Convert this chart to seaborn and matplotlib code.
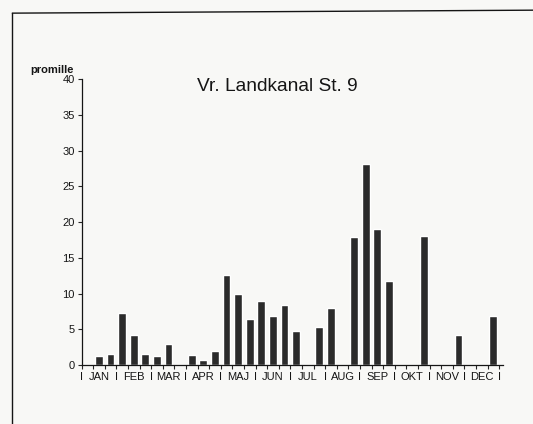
import numpy as np
import matplotlib.pyplot as plt
import seaborn as sns
import pandas as pd

# three sampling slots per month, 0 = no sample
slots = list(range(36))
values = [0, 1.2, 1.6, 7.3, 4.2, 1.6, 1.3, 2.9, 0, 1.4, 0.7, 2.0,
          12.6, 9.9, 6.4, 9.0, 6.9, 8.4, 4.7, 0, 5.3, 8.0, 0, 17.9,
          28.1, 19.1, 11.7, 0, 0, 18.1, 0, 0, 4.2, 0, 0, 6.8]
months = ['JAN', 'FEB', 'MAR', 'APR', 'MAJ', 'JUN',
          'JUL', 'AUG', 'SEP', 'OKT', 'NOV', 'DEC']
yticks = [0, 5, 10, 15, 20, 25, 30, 35, 40]

df = pd.DataFrame({'slot': slots, 'promille': values})

sns.set_style('white')
plt.rcParams['font.family'] = ['Liberation Sans', 'DejaVu Sans']

bg = '#f8f8f6'
ink = '#151515'
fig = plt.figure(figsize=(5.33, 4.24), dpi=100, facecolor=bg)
ax = fig.add_axes([0.153, 0.139, 0.79, 0.674])
ax.set_facecolor(bg)

sns.barplot(data=df, x='slot', y='promille', color='#2b2b2b', width=0.68,
            saturation=1, ax=ax)

ax.set_xlim(-0.5, 35.8)
ax.set_ylim(0, 40)
ax.set_yticks(yticks)
ax.set_yticklabels([str(t) for t in yticks], fontsize=8, color=ink)
ax.tick_params(axis='y', length=3, width=0.8, pad=2, direction='out', left=True)

# small marks at every slot boundary, "I" at month boundaries
bounds = np.arange(-0.5, 36, 1)
ax.set_xticks(bounds)
ax.set_xticklabels(['I' if i % 3 == 0 else '' for i in range(len(bounds))],
                   fontsize=8, color=ink)
ax.tick_params(axis='x', which='major', length=3, width=0.8, pad=2,
               direction='out', bottom=True)
ax.set_xticks(np.arange(1, 36, 3), minor=True)
ax.set_xticklabels(months, minor=True, fontsize=8, color=ink)
ax.tick_params(axis='x', which='minor', length=0, pad=5)

ax.set_xlabel('')
ax.set_ylabel('')
for s in ['top', 'right']:
    ax.spines[s].set_visible(False)
for s in ['left', 'bottom']:
    ax.spines[s].set_color(ink)
    ax.spines[s].set_linewidth(0.9)

ax.text(0.465, 0.975, 'Vr. Landkanal St. 9', transform=ax.transAxes,
        ha='center', va='center', fontsize=13.8, color=ink)
fig.text(0.056, 0.835, 'promille', fontsize=8, color=ink,
         fontweight='bold', va='center')

# frame lines from the scanned page
fig.add_artist(plt.Line2D([0.023, 0.023], [0.0, 0.969], color=ink,
                          lw=1.0, transform=fig.transFigure))
fig.add_artist(plt.Line2D([0.023, 1.0], [0.969, 0.976], color=ink,
                          lw=1.0, transform=fig.transFigure))

fig.savefig('out.png', dpi=100, facecolor=bg)
